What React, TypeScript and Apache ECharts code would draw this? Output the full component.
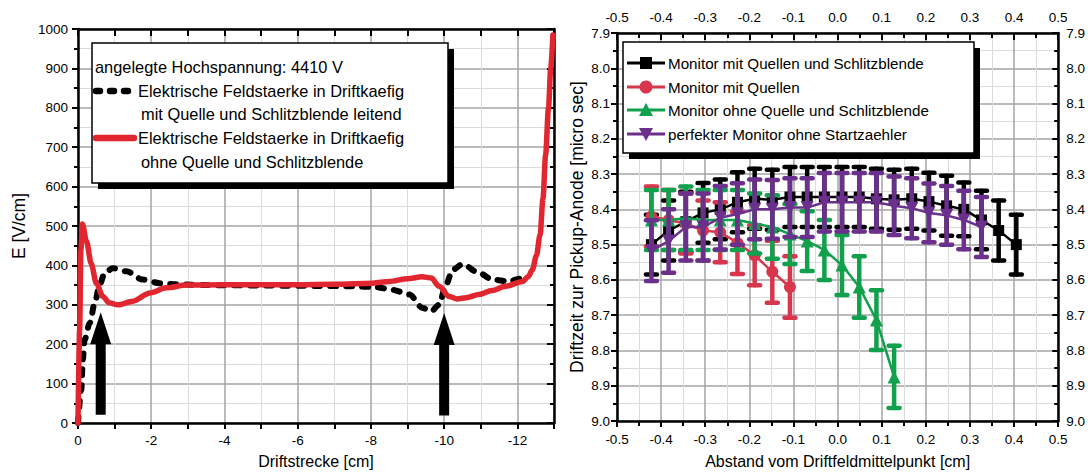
import React, { useEffect, useRef } from "react";
import * as echarts from "echarts";

const FONT = "'Liberation Sans', Arial, Helvetica, sans-serif";

// ---------- Left chart: field strength along the drift cage ----------
const redDist = [0, -0.045, -0.08, -0.12, -0.23, -0.36, -0.5, -0.68, -0.85, -1.09, -1.5, -1.96, -2.41, -2.96, -4, -5, -6, -7, -8.05, -8.5, -9.0, -9.4, -9.65, -9.86, -10.14, -10.36, -10.6, -10.95, -11.3, -11.68, -12.14, -12.3, -12.41, -12.52, -12.62, -12.7, -12.77, -12.85, -12.91, -12.97];
const redField = [0, 237, 440, 505, 462, 405, 355, 321, 305, 300, 309, 330, 343, 350, 351, 351, 351, 352, 355, 359, 366, 371, 368, 347, 321, 315, 318, 326, 336, 347, 359, 372, 389, 425, 478, 570, 680, 800, 900, 985];

const blackDist = [0, -0.09, -0.13, -0.18, -0.32, -0.46, -0.59, -0.73, -0.95, -1.32, -1.77, -2.23, -2.68, -3.5, -5, -6.5, -7.5, -8.14, -8.59, -9.05, -9.41, -9.64, -9.86, -10.05, -10.23, -10.5, -10.95, -11.32, -11.77, -12.05, -12.25];
const blackField = [0, 84, 160, 211, 254, 305, 351, 381, 393, 385, 364, 355, 352, 350, 349, 348, 347, 345, 338, 326, 292, 283, 300, 351, 389, 403, 381, 364, 359, 366, 378];

// arrows marking the positions (annotation)
const arrowDist = [-0.62, -10.0];
const arrowBase = [21, 19];
const arrowTip = [281, 279];

const leftLegendHeader = "angelegte Hochspannung: 4410 V";
const leftLegendBlack = ["Elektrische Feldstaerke in Driftkaefig", "mit Quelle und Schlitzblende leitend"];
const leftLegendRed = ["Elektrische Feldstaerke in Driftkaefig", "ohne Quelle und Schlitzblende"];

// ---------- Right chart: drift time vs. distance from centre ----------
const posX = [-0.422, -0.383, -0.344, -0.305, -0.266, -0.227, -0.188, -0.148, -0.108, -0.069, -0.030, 0.010, 0.049, 0.088, 0.128, 0.168, 0.207, 0.247, 0.286, 0.326, 0.365, 0.405];
const blackT = [8.50, 8.46, 8.435, 8.41, 8.40, 8.38, 8.37, 8.373, 8.365, 8.365, 8.365, 8.365, 8.365, 8.37, 8.373, 8.37, 8.378, 8.39, 8.40, 8.43, 8.46, 8.50];
const blackErr = [0.085, 0.085, 0.085, 0.085, 0.085, 0.085, 0.085, 0.085, 0.085, 0.085, 0.085, 0.085, 0.085, 0.085, 0.085, 0.085, 0.082, 0.085, 0.076, 0.083, 0.085, 0.085];
const redT = [8.42, 8.43, 8.44, 8.46, 8.465, 8.495, 8.53, 8.577, 8.62];
const redErr = [0.085, 0.085, 0.085, 0.085, 0.085, 0.088, 0.085, 0.088, 0.087];
const greenT = [8.43, 8.43, 8.425, 8.43, 8.43, 8.43, 8.44, 8.45, 8.47, 8.49, 8.515, 8.558, 8.62, 8.714, 8.875];
const greenErr = [0.085, 0.085, 0.09, 0.085, 0.085, 0.085, 0.085, 0.09, 0.085, 0.085, 0.085, 0.085, 0.087, 0.085, 0.088];
const purpleT = [8.517, 8.49, 8.45, 8.45, 8.424, 8.413, 8.40, 8.40, 8.395, 8.395, 8.38, 8.38, 8.38, 8.38, 8.39, 8.397, 8.41, 8.417, 8.43, 8.45];
const purpleErr = [0.086, 0.09, 0.095, 0.095, 0.09, 0.087, 0.085, 0.083, 0.083, 0.083, 0.083, 0.083, 0.083, 0.083, 0.083, 0.085, 0.083, 0.083, 0.083, 0.085];

const rightNames = [
  "Monitor mit Quellen und Schlitzblende",
  "Monitor mit Quellen",
  "Monitor ohne Quelle und Schlitzblende",
  "perfekter Monitor ohne Startzaehler",
];
const rightColors = ["#000000", "#d8364d", "#11a04c", "#6b2f8c"];
const leftRed = "#e2262f";

const fmt1 = (v: number) => (Math.abs(v) < 1e-9 ? "0.0" : v.toFixed(1));

function errRender(color: string) {
  return (params: any, api: any) => {
    const x = api.value(0);
    const y = api.value(1);
    const e = api.value(2);
    const a = api.coord([x, y - e]);
    const b = api.coord([x, y + e]);
    const hw = 5.5;
    const style = { stroke: color, lineWidth: 4.5, lineCap: "round" };
    return {
      type: "group",
      children: [
        { type: "line", shape: { x1: a[0], y1: a[1], x2: b[0], y2: b[1] }, style },
        { type: "line", shape: { x1: a[0] - hw, y1: a[1], x2: a[0] + hw, y2: a[1] }, style },
        { type: "line", shape: { x1: b[0] - hw, y1: b[1], x2: b[0] + hw, y2: b[1] }, style },
      ],
    };
  };
}

export default function App() {
  const ref = useRef<HTMLDivElement>(null);
  useEffect(() => {
    if (!ref.current) return;
    const chart = echarts.init(ref.current, undefined, { renderer: "svg" });

    const axisLine = { show: true, onZero: false, lineStyle: { color: "#000", width: 2.5 } };
    const tickStyle = { color: "#000", width: 2 };
    const major = { show: true, lineStyle: { color: "#a4a4a4", width: 1.5 } };
    const minor = { show: true, lineStyle: { color: "#dcdcdc", width: 1 } };
    const label = { color: "#000", fontSize: 13.5, fontFamily: FONT };
    const nameStyleX = { color: "#000", fontSize: 16, fontFamily: FONT };
    const nameStyleY = { color: "#000", fontSize: 17.5, fontFamily: FONT };

    const mkData = (xs: number[], ys: number[]) => ys.map((y, i) => [xs[i], y]);
    const mkErr = (xs: number[], ys: number[], es: number[]) => ys.map((y, i) => [xs[i], y, es[i]]);

    const rightSeries: any[] = [];
    const sets = [
      { t: blackT, e: blackErr, symbol: "rect", size: 11, rot: 0 },
      { t: redT, e: redErr, symbol: "circle", size: 12, rot: 0 },
      { t: greenT, e: greenErr, symbol: "triangle", size: 13, rot: 0 },
      { t: purpleT, e: purpleErr, symbol: "triangle", size: 13, rot: 180 },
    ];
    sets.forEach((s, i) => {
      rightSeries.push({
        type: "custom",
        name: rightNames[i] + " Fehler",
        xAxisIndex: 2,
        yAxisIndex: 2,
        renderItem: errRender(rightColors[i]),
        encode: { x: 0, y: 1 },
        data: mkErr(posX, s.t, s.e),
        z: 2 + i,
        silent: true,
      });
      rightSeries.push({
        type: "line",
        name: rightNames[i],
        xAxisIndex: 2,
        yAxisIndex: 2,
        data: mkData(posX, s.t),
        symbol: s.symbol,
        symbolSize: s.size,
        symbolRotate: s.rot,
        lineStyle: { color: rightColors[i], width: 2.5 },
        itemStyle: { color: rightColors[i] },
        z: 2 + i,
      });
    });

    // legend graphics
    const g: any[] = [];
    // left legend
    g.push({ type: "rect", shape: { x: 98, y: 49, width: 356, height: 140 }, style: { fill: "#000" }, z: 100 });
    g.push({ type: "rect", shape: { x: 92, y: 43, width: 356, height: 140 }, style: { fill: "#fff", stroke: "#000", lineWidth: 1.5 }, z: 101 });
    const ltxt = (t: string, x: number, y: number) =>
      g.push({ type: "text", x, y, style: { text: t, fontSize: 16.4, fontFamily: FONT, fill: "#000", verticalAlign: "middle" }, z: 102 });
    ltxt(leftLegendHeader, 95, 67);
    g.push({ type: "line", shape: { x1: 96, y1: 91, x2: 131, y2: 91 }, style: { stroke: "#000", lineWidth: 6.5, lineCap: "round", lineDash: [4, 10] }, z: 102 });
    ltxt(leftLegendBlack[0], 138, 91);
    ltxt(leftLegendBlack[1], 141, 114);
    g.push({ type: "line", shape: { x1: 96, y1: 138, x2: 134, y2: 138 }, style: { stroke: leftRed, lineWidth: 6.5, lineCap: "round" }, z: 102 });
    ltxt(leftLegendRed[0], 138, 138);
    ltxt(leftLegendRed[1], 141, 162);

    // right legend
    g.push({ type: "rect", shape: { x: 629, y: 48, width: 351, height: 111 }, style: { fill: "#000" }, z: 100 });
    g.push({ type: "rect", shape: { x: 623, y: 42, width: 351, height: 111 }, style: { fill: "#fff", stroke: "#000", lineWidth: 1.5 }, z: 101 });
    const rows = [63, 87, 110, 134];
    rows.forEach((y, i) => {
      const c = rightColors[i];
      g.push({ type: "line", shape: { x1: 627, y1: y, x2: 665, y2: y }, style: { stroke: c, lineWidth: 3 }, z: 102 });
      const cx = 646;
      if (i === 0) g.push({ type: "rect", shape: { x: cx - 6, y: y - 6, width: 12, height: 12 }, style: { fill: c }, z: 103 });
      if (i === 1) g.push({ type: "circle", shape: { cx, cy: y, r: 6.5 }, style: { fill: c }, z: 103 });
      if (i === 2) g.push({ type: "polygon", shape: { points: [[cx, y - 7], [cx + 7, y + 6], [cx - 7, y + 6]] }, style: { fill: c }, z: 103 });
      if (i === 3) g.push({ type: "polygon", shape: { points: [[cx, y + 7], [cx + 7, y - 6], [cx - 7, y - 6]] }, style: { fill: c }, z: 103 });
      g.push({ type: "text", x: 668, y, style: { text: rightNames[i], fontSize: 15.2, fontFamily: FONT, fill: "#000", verticalAlign: "middle" }, z: 103 });
    });

    const option: any = {
      animation: false,
      backgroundColor: "#fff",
      textStyle: { fontFamily: FONT },
      grid: [
        { left: 78, top: 29, width: 476, height: 394, containLabel: false },
        { left: 617, top: 33, width: 443, height: 388, containLabel: false },
      ],
      xAxis: [
        {
          type: "value", gridIndex: 0, position: "bottom", min: -13, max: 0, splitNumber: 6, inverse: true,
          name: "Driftstrecke [cm]", nameLocation: "middle", nameGap: 30, nameTextStyle: nameStyleX,
          axisLine, axisTick: { show: true, inside: false, length: 6, lineStyle: tickStyle },
          minorTick: { show: true, splitNumber: 2, length: 6, lineStyle: tickStyle },
          axisLabel: { ...label, margin: 10, formatter: (v: number) => (v <= -12.99 ? "" : String(v)) },
          splitLine: major, minorSplitLine: minor,
        },
        {
          type: "value", gridIndex: 0, position: "top", min: -13, max: 0, splitNumber: 6, inverse: true,
          axisLine, axisTick: { show: true, inside: true, length: 7, lineStyle: tickStyle },
          minorTick: { show: true, splitNumber: 2, length: 7, lineStyle: tickStyle },
          axisLabel: { show: false }, splitLine: { show: false },
        },
        {
          type: "value", gridIndex: 1, position: "bottom", min: -0.5, max: 0.5, interval: 0.1,
          name: "Abstand vom Driftfeldmittelpunkt [cm]", nameLocation: "middle", nameGap: 32, nameTextStyle: nameStyleX,
          axisLine, axisTick: { show: true, inside: false, length: 6, lineStyle: tickStyle },
          minorTick: { show: true, splitNumber: 2, length: 5, lineStyle: tickStyle },
          axisLabel: { ...label, margin: 11, formatter: fmt1 },
          splitLine: major, minorSplitLine: minor,
        },
        {
          type: "value", gridIndex: 1, position: "top", min: -0.5, max: 0.5, interval: 0.1,
          axisLine, axisTick: { show: true, inside: true, length: 7, lineStyle: tickStyle },
          minorTick: { show: true, splitNumber: 2, length: 5, lineStyle: tickStyle },
          axisLabel: { ...label, margin: 9, formatter: fmt1 }, splitLine: { show: false },
        },
      ],
      yAxis: [
        {
          type: "value", gridIndex: 0, position: "left", min: 0, max: 1000, interval: 100,
          name: "E [V/cm]", nameLocation: "middle", nameGap: 50, nameTextStyle: nameStyleY,
          axisLine, axisTick: { show: true, inside: false, length: 6, lineStyle: tickStyle },
          minorTick: { show: true, splitNumber: 2, length: 4, lineStyle: tickStyle },
          axisLabel: { ...label, margin: 10, formatter: (v: number) => String(v) },
          splitLine: major, minorSplitLine: minor,
        },
        {
          type: "value", gridIndex: 0, position: "right", min: 0, max: 1000, interval: 100,
          axisLine, axisTick: { show: true, inside: true, length: 7, lineStyle: tickStyle },
          minorTick: { show: true, splitNumber: 2, length: 4, lineStyle: tickStyle },
          axisLabel: { show: false }, splitLine: { show: false },
        },
        {
          type: "value", gridIndex: 1, position: "left", min: 7.9, max: 9.0, interval: 0.1, inverse: true,
          name: "Driftzeit zur Pickup-Anode [micro sec]", nameLocation: "middle", nameGap: 31, nameTextStyle: nameStyleY,
          axisLine, axisTick: { show: true, inside: false, length: 6, lineStyle: tickStyle },
          minorTick: { show: true, splitNumber: 2, length: 4, lineStyle: tickStyle },
          axisLabel: { ...label, margin: 7, formatter: fmt1 },
          splitLine: major, minorSplitLine: minor,
        },
        {
          type: "value", gridIndex: 1, position: "right", min: 7.9, max: 9.0, interval: 0.1, inverse: true,
          axisLine, axisTick: { show: true, inside: true, length: 6, lineStyle: tickStyle },
          minorTick: { show: true, splitNumber: 2, length: 4, lineStyle: tickStyle },
          axisLabel: { ...label, margin: 8, formatter: fmt1 }, splitLine: { show: false },
        },
      ],
      series: [
        {
          type: "line", name: leftLegendBlack.join(" "), xAxisIndex: 0, yAxisIndex: 0,
          data: mkData(blackDist, blackField), symbol: "none", smooth: 0.3, smoothMonotone: "x",
          lineStyle: { color: "#000", width: 6, type: [6, 10], cap: "round", join: "round" }, z: 2,
        },
        {
          type: "line", name: leftLegendRed.join(" "), xAxisIndex: 0, yAxisIndex: 0,
          data: mkData(redDist, redField), symbol: "none", smooth: 0.3, smoothMonotone: "x",
          lineStyle: { color: leftRed, width: 5.5, cap: "round", join: "round" }, z: 3,
        },
        {
          type: "custom", name: "Pfeile", xAxisIndex: 0, yAxisIndex: 0, silent: true, z: 4,
          encode: { x: 0, y: [1, 2] },
          data: arrowDist.map((d, i) => [d, arrowBase[i], arrowTip[i]]),
          renderItem: (params: any, api: any) => {
            const x = api.value(0);
            const b = api.coord([x, api.value(1)]);
            const t = api.coord([x, api.value(2)]);
            const headLen = 32, headW = 10.5, shaftW = 5;
            const hy = t[1] + headLen;
            return {
              type: "polygon",
              shape: { points: [[b[0] - shaftW, b[1]], [b[0] - shaftW, hy], [b[0] - headW, hy], [t[0], t[1]], [b[0] + headW, hy], [b[0] + shaftW, hy], [b[0] + shaftW, b[1]]] },
              style: { fill: "#000" },
            };
          },
        },
        ...rightSeries,
      ],
      graphic: g,
    };
    chart.setOption(option);
    return () => chart.dispose();
  }, []);
  return <div ref={ref} style={{ position: "fixed", left: 0, top: 0, width: 1088, height: 475 }} />;
}
